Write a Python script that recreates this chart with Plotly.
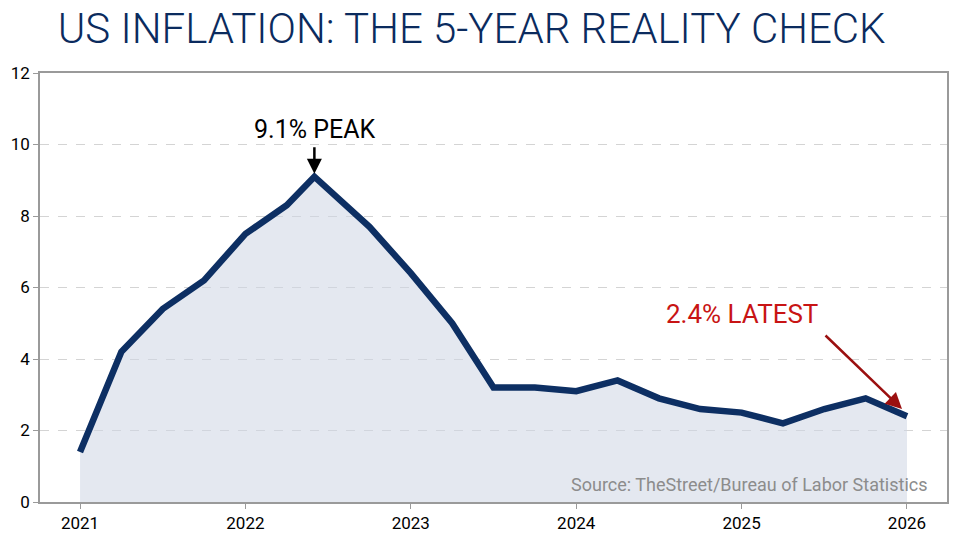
import plotly.graph_objects as go

years = [2021, 2021.25, 2021.5, 2021.75, 2022, 2022.25, 2022.417, 2022.75, 2023, 2023.25,
         2023.5, 2023.75, 2024, 2024.25, 2024.5, 2024.75, 2025, 2025.25, 2025.5, 2025.75, 2026]
inflation = [1.4, 4.2, 5.4, 6.2, 7.5, 8.3, 9.1, 7.7, 6.4, 5.0,
             3.2, 3.2, 3.1, 3.4, 2.9, 2.6, 2.5, 2.2, 2.6, 2.9, 2.4]
x_ticks = [2021, 2022, 2023, 2024, 2025, 2026]
y_ticks = [0, 2, 4, 6, 8, 10, 12]

peak_x, peak_y, peak_label = 2022.417, 9.1, "9.1% PEAK"
last_x, last_y, last_label = 2026, 2.4, "2.4% LATEST"

font_main = "Roboto, Open Sans, sans-serif"
navy = "#0b2b5e"

fig = go.Figure()
fig.add_trace(go.Scatter(
    x=years, y=inflation, mode="lines",
    line=dict(color="#0d2f63", width=6.5),
    fill="tozeroy", fillcolor="rgba(205,214,228,0.55)",
    hoverinfo="skip", showlegend=False,
))

# peak arrow and label
fig.add_annotation(x=peak_x, y=peak_y, xref="x", yref="y", text="",
                   showarrow=True, arrowhead=2, arrowsize=1.2, arrowwidth=2.5,
                   arrowcolor="black", ax=0, ay=-28, yshift=3)
fig.add_annotation(x=peak_x, y=peak_y, xref="x", yref="y", text=peak_label,
                   showarrow=False, yshift=47, yanchor="middle", xanchor="center",
                   font=dict(family=font_main, size=25, color="black"))
# latest arrow and label
fig.add_annotation(x=last_x - 0.03, y=last_y + 0.2, xref="x", yref="y", text="",
                   showarrow=True, arrowhead=2, arrowsize=1.3, arrowwidth=2.5,
                   arrowcolor="#9b1010", ax=-78, ay=-75)
fig.add_annotation(x=2025.0, y=5.26, xref="x", yref="y", text=last_label,
                   showarrow=False, font=dict(family=font_main, size=26, color="#c81414"),
                   xanchor="center", yanchor="middle")
fig.add_annotation(x=0.98, y=0.012, xref="paper", yref="paper",
                   text="Source: TheStreet/Bureau of Labor Statistics", showarrow=False,
                   font=dict(family=font_main, size=18, color="#8c8c8c"),
                   xanchor="right", yanchor="bottom")

fig.update_layout(
    width=960, height=540,
    paper_bgcolor="white", plot_bgcolor="white",
    margin=dict(l=32, r=21, t=65, b=46),
    title=dict(text="US INFLATION: THE 5-YEAR REALITY CHECK", x=0.483, xanchor="center",
               xref="container", yref="container", y=0.962, yanchor="middle", automargin=False,
               font=dict(family="Roboto, sans-serif", weight=300,
                         size=42, color=navy)),
    xaxis=dict(range=[2020.758, 2026.242], tickvals=x_ticks, ticktext=[str(t) for t in x_ticks],
               showgrid=False, zeroline=False, showline=True, linecolor="#9a9a9a", linewidth=1.5,
               mirror=True, ticks="outside", ticklen=5, tickcolor="#9a9a9a", automargin=False,
               tickfont=dict(family=font_main, size=17, color="black")),
    yaxis=dict(range=[0, 12], tickvals=y_ticks, showgrid=True, gridcolor="#d4d4d4",
               griddash="dash", gridwidth=1, zeroline=False, showline=True,
               linecolor="#9a9a9a", linewidth=1.5, mirror=True, ticks="outside",
               ticklen=5, tickcolor="#9a9a9a", automargin=False,
               tickfont=dict(family=font_main, size=17, color="black")),
)

fig.write_html("out.html")
